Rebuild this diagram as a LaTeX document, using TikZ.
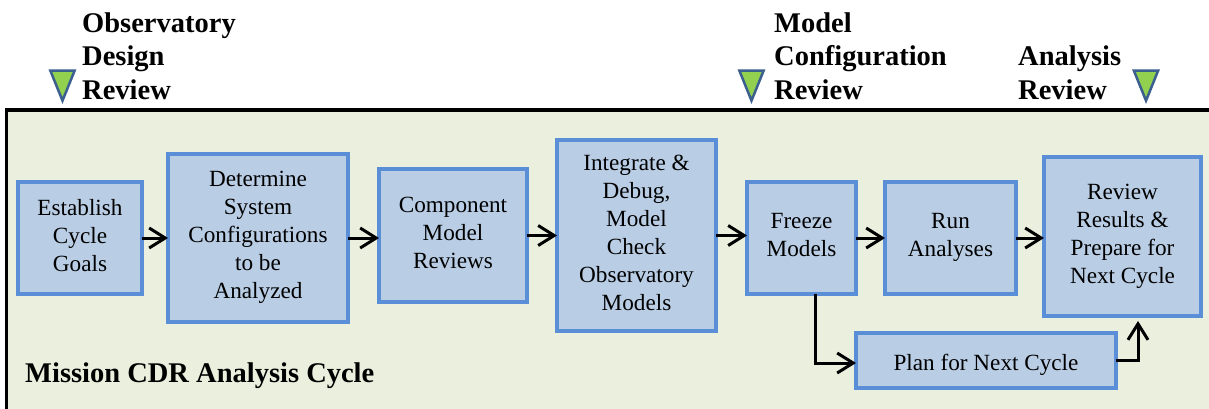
\documentclass[tikz,border=0pt]{standalone}
\usepackage{fontspec}
\setmainfont{Liberation Serif}
\usetikzlibrary{positioning,arrows.meta,shapes.geometric}
\definecolor{boxfill}{HTML}{B9CDE5}
\definecolor{boxline}{HTML}{5A8FD8}
\definecolor{panelfill}{HTML}{EBF0DE}
\definecolor{marklime}{HTML}{92D050}
\definecolor{markline}{HTML}{3B5F8F}
\begin{document}
\begin{tikzpicture}[x=1pt, y=-1pt,
		boxstyle/.style={rectangle,draw=boxline,fill=boxfill,line width=4pt,align=center,inner sep=0pt,outer sep=0pt,font=\fontsize{23.2}{28}\selectfont,execute at end node={\rule[-6pt]{0pt}{6pt}}},
		tallbox/.style={boxstyle,execute at begin node={\rule{0pt}{33pt}}},
		flow/.style={line width=3pt,-{Straight Barb[length=16pt,width=20pt,line width=3pt]}},
		review/.style={anchor=base west,align=left,inner sep=0pt,font=\fontsize{28.5}{33.5}\bfseries\selectfont},
		marker/.style={isosceles triangle,isosceles triangle apex angle=44,shape border rotate=-90,draw=markline,fill=marklime,line width=2.5pt,inner sep=0pt,minimum height=30pt,anchor=apex}
		]
	\useasboundingbox (0,0) rectangle (1209,408);
	\node [rectangle,draw=black,fill=panelfill,line width=3.5pt,minimum width=1220pt,minimum height=320pt,anchor=north west,inner sep=0pt,outer sep=0pt] (panel) at (6.5,110) {};

	\node [tallbox,minimum width=124pt,minimum height=112pt] (goals) at (80,238) {Establish\\Cycle\\Goals};
	\node [tallbox,minimum width=180pt,minimum height=168pt,right=26pt of goals] (configs) {Determine\\System\\Configurations\\to be\\Analyzed};
	\node [tallbox,minimum width=148pt,minimum height=133pt,right=31pt of configs,yshift=2.5pt] (reviews) {Component\\Model\\Reviews};
	\node [tallbox,minimum width=159pt,minimum height=191pt,right=30pt of reviews] (debug) {Integrate \&\\Debug,\\Model\\Check\\Observatory\\Models};
	\node [tallbox,minimum width=109pt,minimum height=112pt,right=31pt of debug,yshift=-2.5pt] (freeze) {Freeze\\Models};
	\node [tallbox,minimum width=131pt,minimum height=112pt,right=29pt of freeze] (run) {Run\\Analyses};
	\node [tallbox,minimum width=157pt,minimum height=159pt,right=28pt of run,yshift=1.5pt] (results) {Review\\Results \&\\Prepare for\\Next Cycle};
	\node [boxstyle,execute at begin node={\rule{0pt}{26pt}},minimum width=260pt,minimum height=55pt] (plan) at (986,360.5) {Plan for Next Cycle};

	\draw [flow] (goals.east) -- (goals.east -| configs.west);
	\draw [flow] (configs.east) -- (configs.east -| reviews.west);
	\draw [flow] (reviews.east) -- (reviews.east -| debug.west);
	\draw [flow] (debug.east) -- (debug.east -| freeze.west);
	\draw [flow] (freeze.east) -- (freeze.east -| run.west);
	\draw [flow] (run.east) -- (run.east -| results.west);
	\draw [flow] ([xshift=13.5pt]freeze.south) |- ([yshift=-2.5pt]plan.west);
	\draw [flow] (plan.east) -| ([xshift=15.5pt,yshift=-5pt]results.south);

	\node [marker] (designmark) at (62.5,104) {};
	\node [marker] (configmark) at (751.5,104) {};
	\node [marker] (analysismark) at (1146,104) {};

	\node [review] (design) at (82,99) {Observatory\\Design\\Review};
	\node [review] (config) at (774,99) {Model\\Configuration\\Review};
	\node [review] (analysis) at (1018,99) {Analysis\\Review};
	\node [review] (cycle) at (25,382) {Mission CDR Analysis Cycle};
\end{tikzpicture}
\end{document}
